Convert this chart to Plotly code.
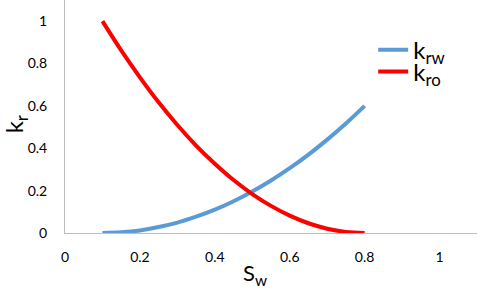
import plotly.graph_objects as go

sw = [0.1, 0.15, 0.2, 0.25, 0.3, 0.35, 0.4, 0.45, 0.5, 0.55, 0.6, 0.65, 0.7, 0.75, 0.8]
krw = [0.0, 0.003, 0.012, 0.028, 0.049, 0.077, 0.110, 0.150, 0.196, 0.248, 0.306, 0.370, 0.441, 0.517, 0.6]
kro = [1.0, 0.862, 0.735, 0.617, 0.510, 0.413, 0.327, 0.25, 0.184, 0.128, 0.082, 0.046, 0.020, 0.005, 0.0]
tick_vals = [0, 0.2, 0.4, 0.6, 0.8, 1]
tick_text = ["0", "0.2", "0.4", "0.6", "0.8", "1"]

FONT = "Lato"

fig = go.Figure()
fig.add_trace(go.Scatter(x=sw, y=krw, mode="lines", name="k<sub>rw</sub>", legend="legend",
                         line=dict(color="#5b9bd5", width=4, shape="spline")))
fig.add_trace(go.Scatter(x=sw, y=kro, mode="lines", name="k<sub>ro</sub>", legend="legend2",
                         line=dict(color="#ff0000", width=4, shape="spline")))

leg_common = dict(xanchor="left", yanchor="middle",
                  font=dict(family=FONT, size=24, color="#000000"),
                  bgcolor="rgba(0,0,0,0)", itemwidth=30)

fig.update_layout(
    width=479, height=289,
    margin=dict(l=65, r=2, t=0, b=56),
    paper_bgcolor="white", plot_bgcolor="white",
    font=dict(family=FONT, size=14, color="#000000"),
    showlegend=True,
    legend=dict(x=0.748, y=0.785, **leg_common),
    legend2=dict(x=0.748, y=0.691, **leg_common),
    xaxis=dict(range=[0, 1.1], tickvals=tick_vals, ticktext=tick_text, automargin=False,
               showgrid=False, zeroline=False, showline=True, linecolor="#bfbfbf",
               linewidth=1, ticks="", ticklabelstandoff=11),
    yaxis=dict(range=[0, 1.1], tickvals=tick_vals, ticktext=tick_text, automargin=False,
               showgrid=False, zeroline=False, showline=True, linecolor="#bfbfbf",
               linewidth=1, ticks="", ticklabelstandoff=14),
    annotations=[
        dict(text="S<sub>w</sub>", xref="paper", yref="paper", x=0.461, y=-0.176,
             xanchor="center", yanchor="middle", showarrow=False,
             font=dict(family=FONT, size=22, color="#000000")),
        dict(text="k<sub>r</sub>", xref="paper", yref="paper", x=-0.118, y=0.468,
             xanchor="center", yanchor="middle", showarrow=False, textangle=-90,
             font=dict(family=FONT, size=24, color="#000000")),
    ],
)

fig.write_html("out.html", config={"displayModeBar": False},
               post_script="document.body.style.margin='0px';")
